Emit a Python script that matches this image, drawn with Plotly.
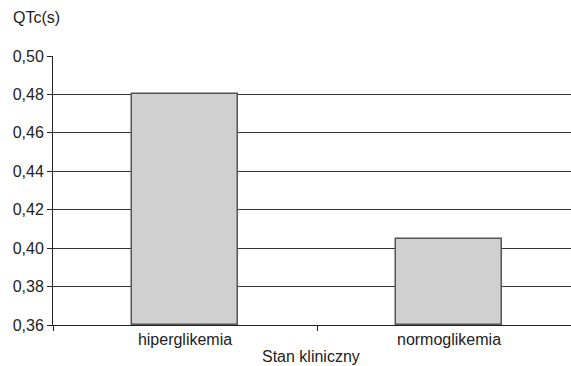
import plotly.graph_objects as go

# QTc by clinical state
categories = ["hiperglikemia", "normoglikemia"]
qtc_values = [0.48, 0.405]
y_ticks = [0.36, 0.38, 0.40, 0.42, 0.44, 0.46, 0.48, 0.50]

base = 0.36
font = dict(family="Liberation Sans, Arial, sans-serif", size=16, color="#222222")

fig = go.Figure(
    go.Bar(
        x=categories,
        y=[v - base for v in qtc_values],
        base=base,
        width=0.4,
        marker=dict(color="#d0d0d0", line=dict(color="#555555", width=1.5)),
        hoverinfo="skip",
    )
)

W, H = 571, 366
left, top, bottom = 53, 56, 41
plot_w = W - left
slot = 264  # pixels per category

fig.update_layout(
    width=W,
    height=H,
    margin=dict(l=left, r=0, t=top, b=bottom, pad=0),
    paper_bgcolor="white",
    plot_bgcolor="white",
    font=font,
    separators=", ",
    showlegend=False,
    bargap=0,
)

fig.update_xaxes(
    type="category",
    range=[-0.5, -0.5 + plot_w / slot],
    showline=True,
    linecolor="#222222",
    linewidth=1,
    ticks="outside",
    tickson="boundaries",
    ticklen=5,
    tickcolor="#222222",
    showgrid=False,
    tickfont=font,
)

fig.update_yaxes(
    range=[0.36, 0.50],
    tickvals=y_ticks,
    tickformat=".2f",
    showline=True,
    linecolor="#222222",
    linewidth=1,
    ticks="outside",
    ticklen=5,
    tickcolor="#222222",
    showgrid=True,
    gridcolor="#333333",
    gridwidth=1,
    zeroline=False,
    tickfont=font,
)

fig.add_annotation(
    text="QTc(s)", xref="paper", yref="paper", x=0, y=1,
    xanchor="left", yanchor="bottom", xshift=-left + 11, yshift=28,
    showarrow=False, font=font,
)
fig.add_annotation(
    text="Stan kliniczny", xref="paper", yref="paper", x=(311 - left) / plot_w, y=0,
    xanchor="center", yanchor="top", yshift=-21,
    showarrow=False, font=font,
)

fig.write_html("out.html")
